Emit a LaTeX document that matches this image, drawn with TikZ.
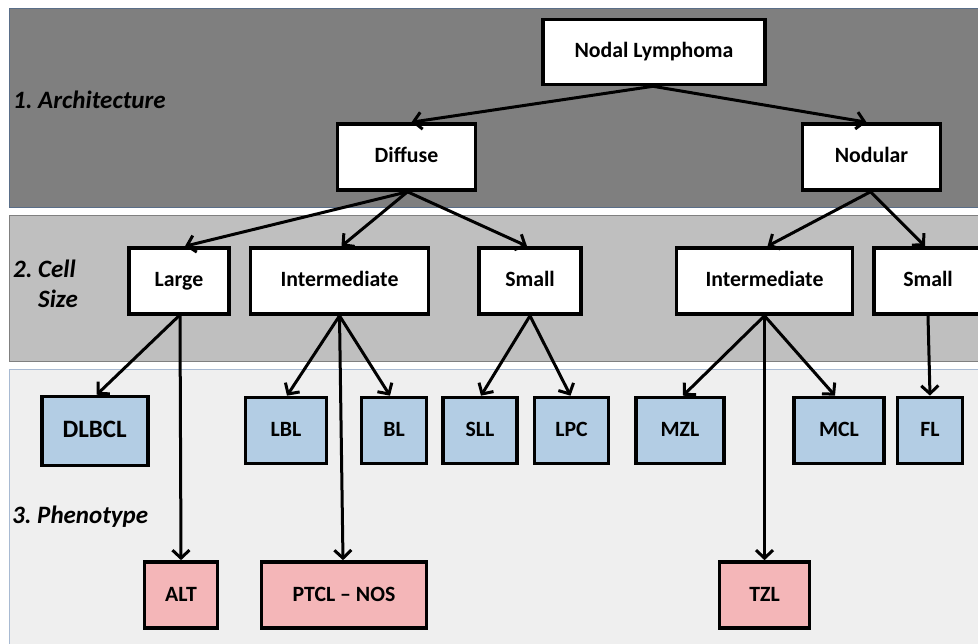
\documentclass[tikz,border=0pt]{standalone}
\usepackage{fontspec}
\setmainfont{Carlito}
\usetikzlibrary{arrows.meta}
\definecolor{bandA}{HTML}{7F7F7F}
\definecolor{bandB}{HTML}{BFBFBF}
\definecolor{bandC}{HTML}{EFEFEF}
\definecolor{bandAline}{HTML}{5A6E88}
\definecolor{bandBline}{HTML}{808080}
\definecolor{bandCline}{HTML}{A8BAD2}
\definecolor{blueFill}{HTML}{B3CDE4}
\definecolor{pinkFill}{HTML}{F4B6B8}
\tikzset{
  box/.style={draw=black, line width=3.6pt, fill=white, minimum height=66pt, inner sep=0pt,
    text height=15pt, text depth=3pt,
    font=\bfseries\fontsize{21.8}{26}\selectfont},
  bluebox/.style={box, fill=blueFill},
  pinkbox/.style={box, fill=pinkFill},
  conn/.style={line width=3pt, -{Straight Barb[length=8pt,width=17pt,line width=3pt]}},
  lvl/.style={font=\bfseries\itshape\fontsize{25}{29}\selectfont, anchor=west, inner sep=0pt}
}
\begin{document}
\frenchspacing
\begin{tikzpicture}[x=1pt,y=-1pt]
\clip (0,0) rectangle (978,644);
\fill[white] (0,0) rectangle (978,644);
% bands
\filldraw[fill=bandA, draw=bandAline, line width=1pt] (9,8.5) rectangle (990,208);
\filldraw[fill=bandB, draw=bandBline, line width=1pt] (9,215.5) rectangle (990,361.5);
\filldraw[fill=bandC, draw=bandCline, line width=1pt] (9,370) rectangle (990,660);
% level labels
\node[lvl] (l1) at (13,100) {1. Architecture};
\node[lvl] (l2a) at (13,269) {2. Cell};
\node[lvl] (l2b) at (38,299) {Size};
\node[lvl] (l3) at (12,516.5) {3. Phenotype};
% nodes
\node[box, minimum width=222pt, minimum height=65pt] (nodal) at (654,52) {Nodal Lymphoma};
\node[box, minimum width=138pt] (diffuse) at (406.5,157) {Diffuse};
\node[box, minimum width=138pt] (nodular) at (871.5,157) {Nodular};
\node[box, minimum width=100pt] (large) at (179,281) {Large};
\node[box, minimum width=178pt] (interL) at (339.5,281) {Intermediate};
\node[box, minimum width=102pt] (smallL) at (530,281) {Small};
\node[box, minimum width=176pt] (interR) at (764.5,281) {Intermediate};
\node[box, minimum width=108pt] (smallR) at (928,281) {Small};
\node[bluebox, minimum width=106pt, minimum height=69pt, text height=17pt, text depth=3pt, font=\bfseries\fontsize{25}{29}\selectfont] (dlbcl) at (94.7,431) {DLBCL};
\node[bluebox, minimum width=81pt] (lbl) at (286,430.5) {LBL};
\node[bluebox, minimum width=65pt] (bl) at (394,430.5) {BL};
\node[bluebox, minimum width=74pt] (sll) at (480,430.5) {SLL};
\node[bluebox, minimum width=74pt] (lpc) at (571.5,430.5) {LPC};
\node[bluebox, minimum width=88pt] (mzl) at (680,430.5) {MZL};
\node[bluebox, minimum width=90pt] (mcl) at (839,430.5) {MCL};
\node[bluebox, minimum width=65pt] (fl) at (930,430.5) {FL};
\node[pinkbox, minimum width=73pt] (alt) at (181,595) {ALT};
\node[pinkbox, minimum width=165pt] (ptcl) at (344,595) {PTCL – NOS};
\node[pinkbox, minimum width=90pt] (tzl) at (764.5,595) {TZL};
% connectors
\draw[conn] ([xshift=-1pt]nodal.south) -- ([xshift=5pt]diffuse.north);
\draw[conn] ([xshift=-1pt]nodal.south) -- ([xshift=-5pt]nodular.north);
\draw[conn] ([xshift=1pt]diffuse.south) -- ([xshift=6pt]large.north);
\draw[conn] ([xshift=1pt]diffuse.south) -- ([xshift=2pt]interL.north);
\draw[conn] ([xshift=1pt]diffuse.south) -- ([xshift=-3pt]smallL.north);
\draw[conn] ([xshift=-1pt]nodular.south) -- ([xshift=3pt]interR.north);
\draw[conn] ([xshift=-1pt]nodular.south) -- ([xshift=-3pt]smallR.north);
\draw[conn] (large.south) -- ([xshift=2pt]dlbcl.north);
\draw[conn] ([xshift=1pt]large.south) -- (alt.north);
\draw[conn] (interL.south) -- ([xshift=1pt]lbl.north);
\draw[conn] (interL.south) -- ([xshift=-4pt]bl.north);
\draw[conn] (interL.south) -- ([xshift=-1pt]ptcl.north);
\draw[conn] (smallL.south) -- ([xshift=1pt]sll.north);
\draw[conn] (smallL.south) -- ([xshift=-1pt]lpc.north);
\draw[conn] (interR.south) -- ([xshift=3pt]mzl.north);
\draw[conn] (interR.south) -- ([xshift=-4pt]mcl.north);
\draw[conn] (interR.south) -- (tzl.north);
\draw[conn] (smallR.south) -- (fl.north);
\end{tikzpicture}
\end{document}
